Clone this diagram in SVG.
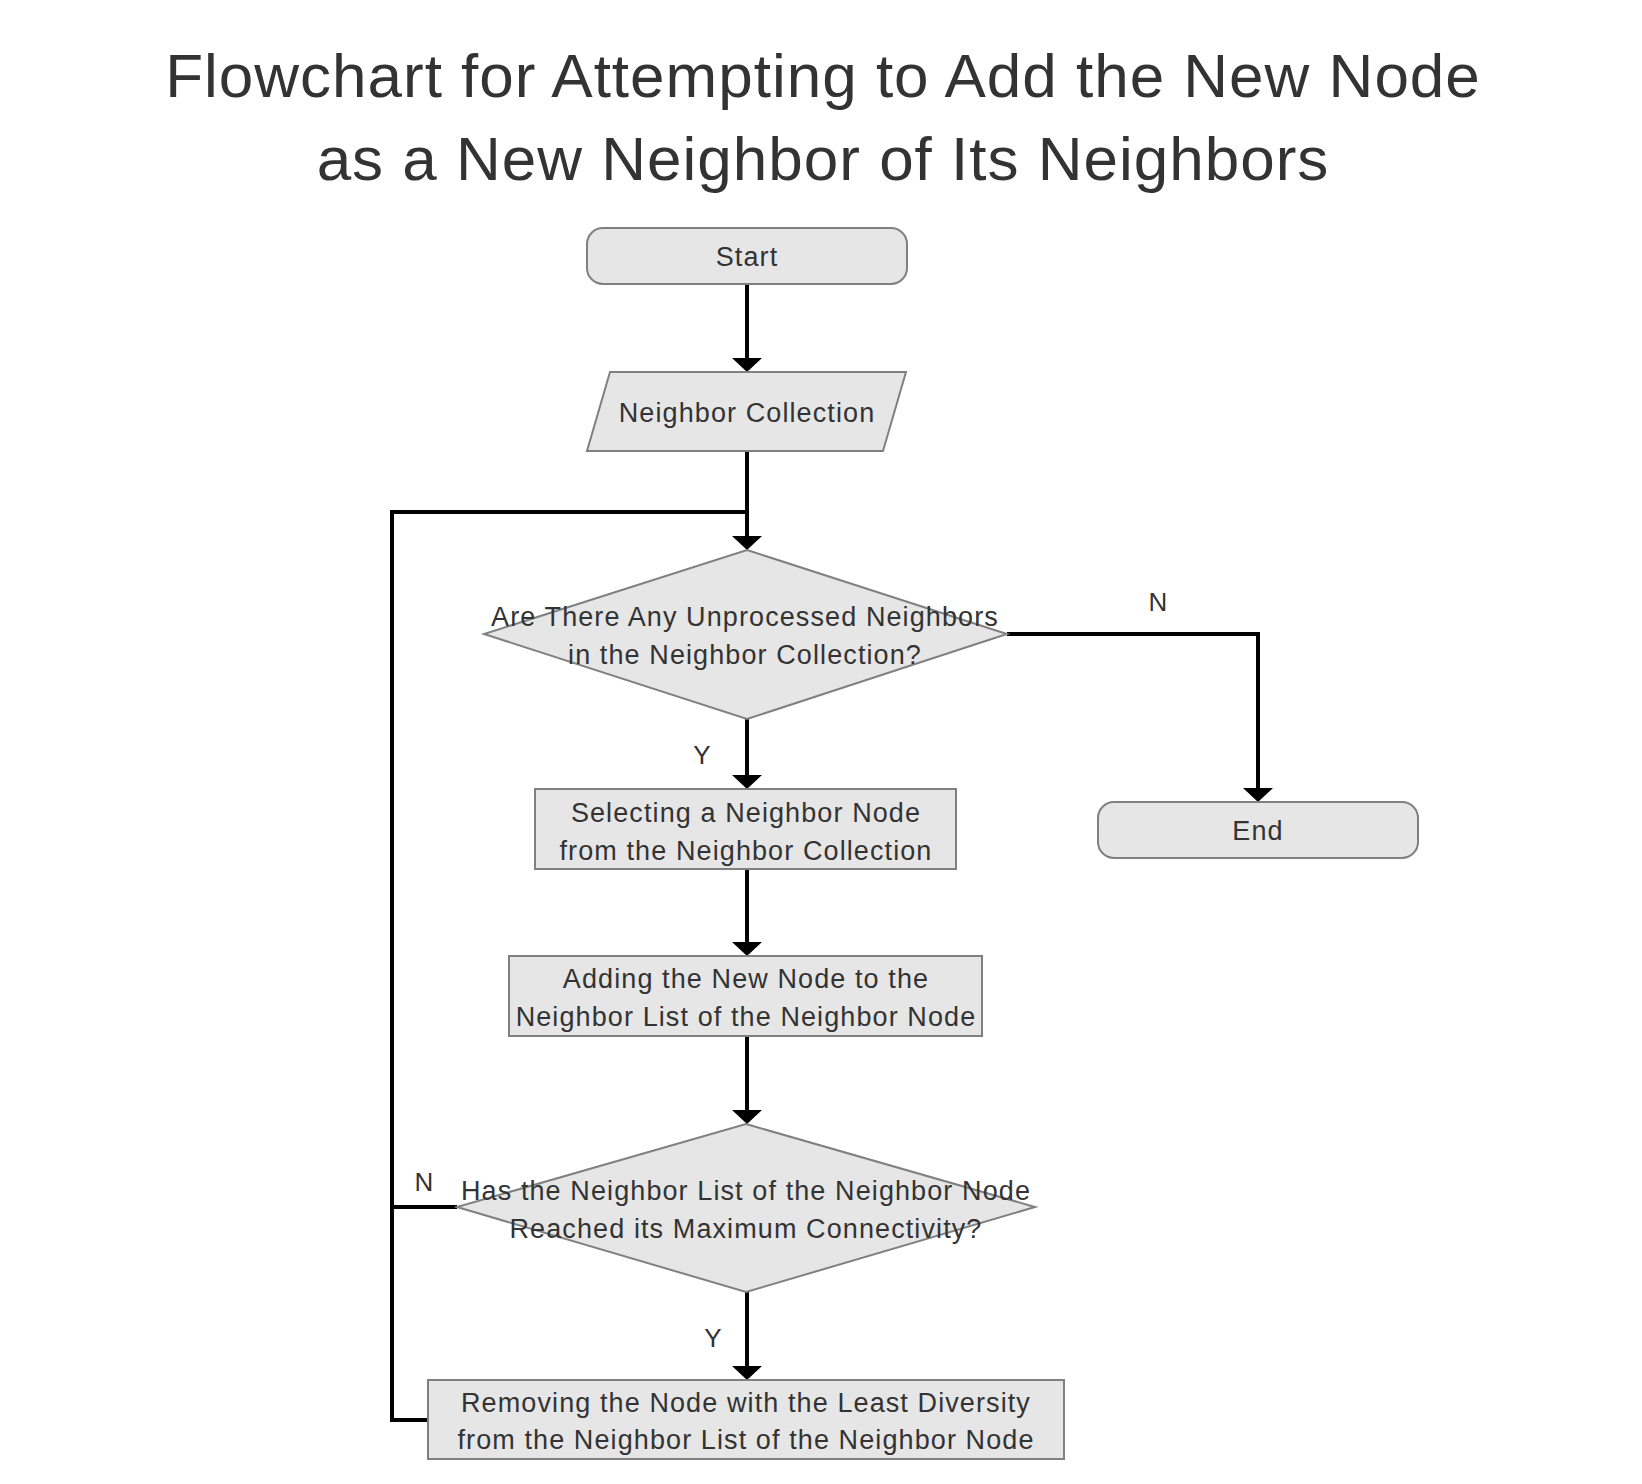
<svg xmlns="http://www.w3.org/2000/svg" width="1642" height="1484" viewBox="0 0 1642 1484">
<style>
.node{fill:#e6e6e6;stroke:#808080;stroke-width:2}
.t{font-family:"Liberation Sans",Arial,sans-serif;font-size:27px;fill:#333333;text-anchor:middle;letter-spacing:1.1px}
.td{font-family:"Liberation Sans",Arial,sans-serif;font-size:27px;fill:#333333;text-anchor:middle;letter-spacing:1.1px}
.title{font-family:"Liberation Sans",Arial,sans-serif;font-size:62px;fill:#333333;text-anchor:middle;letter-spacing:1px}
.lbl{font-family:"Liberation Sans",Arial,sans-serif;font-size:26px;fill:#333333;text-anchor:middle}
.c{fill:none;stroke:#000000;stroke-width:4}
</style>
<defs>
<marker id="arr" viewBox="0 0 14 30" refX="4" refY="15" markerWidth="14" markerHeight="30" markerUnits="userSpaceOnUse" orient="auto">
<path d="M0,0 L14,15 L0,30 Z" fill="#000000"/>
</marker>
</defs>
<rect width="1642" height="1484" fill="#ffffff"/>
<g id="title">
<text class="title" x="823" y="97">Flowchart for Attempting to Add the New Node</text>
<text class="title" x="823" y="180">as a New Neighbor of Its Neighbors</text>
</g>
<g id="connectors">
<path class="c" d="M747,284 L747,362" marker-end="url(#arr)"/>
<path class="c" d="M747,451 L747,540" marker-end="url(#arr)"/>
<path class="c" d="M428,1420 L392,1420 L392,512 L747,512"/>
<path class="c" d="M1007,634 L1258,634 L1258,792" marker-end="url(#arr)"/>
<path class="c" d="M747,719 L747,779" marker-end="url(#arr)"/>
<path class="c" d="M747,869 L747,946" marker-end="url(#arr)"/>
<path class="c" d="M747,1036 L747,1114" marker-end="url(#arr)"/>
<path class="c" d="M457,1207 L392,1207"/>
<path class="c" d="M747,1292 L747,1370" marker-end="url(#arr)"/>
<text class="lbl" x="1158" y="611">N</text>
<text class="lbl" x="702" y="764">Y</text>
<text class="lbl" x="424" y="1191">N</text>
<text class="lbl" x="713" y="1347">Y</text>
</g>
<g id="start">
<rect class="node" x="587" y="228" width="320" height="56" rx="16" ry="16"/>
<text class="t" x="747" y="266">Start</text>
</g>
<g id="neighbor-collection">
<polygon class="node" points="610,372 906,372 883,451 587,451"/>
<text class="t" x="747" y="422">Neighbor Collection</text>
</g>
<g id="decision-unprocessed">
<polygon class="node" points="747,550 1007,634 747,719 484,634"/>
<text class="td" x="745" y="626">Are There Any Unprocessed Neighbors</text>
<text class="td" x="745" y="664">in the Neighbor Collection?</text>
</g>
<g id="end">
<rect class="node" x="1098" y="802" width="320" height="56" rx="16" ry="16"/>
<text class="t" x="1258" y="840">End</text>
</g>
<g id="select-neighbor">
<rect class="node" x="535" y="789" width="421" height="80"/>
<text class="t" x="746" y="822">Selecting a Neighbor Node</text>
<text class="t" x="746" y="860">from the Neighbor Collection</text>
</g>
<g id="add-new-node">
<rect class="node" x="509" y="956" width="473" height="80"/>
<text class="t" x="746" y="988">Adding the New Node to the</text>
<text class="t" x="746" y="1026">Neighbor List of the Neighbor Node</text>
</g>
<g id="decision-max">
<polygon class="node" points="746,1124 1035,1207 746,1292 457,1207"/>
<text class="td" x="746" y="1200">Has the Neighbor List of the Neighbor Node</text>
<text class="td" x="746" y="1238">Reached its Maximum Connectivity?</text>
</g>
<g id="remove-node">
<rect class="node" x="428" y="1380" width="636" height="79"/>
<text class="t" x="746" y="1412">Removing the Node with the Least Diversity</text>
<text class="t" x="746" y="1449">from the Neighbor List of the Neighbor Node</text>
</g>
</svg>
